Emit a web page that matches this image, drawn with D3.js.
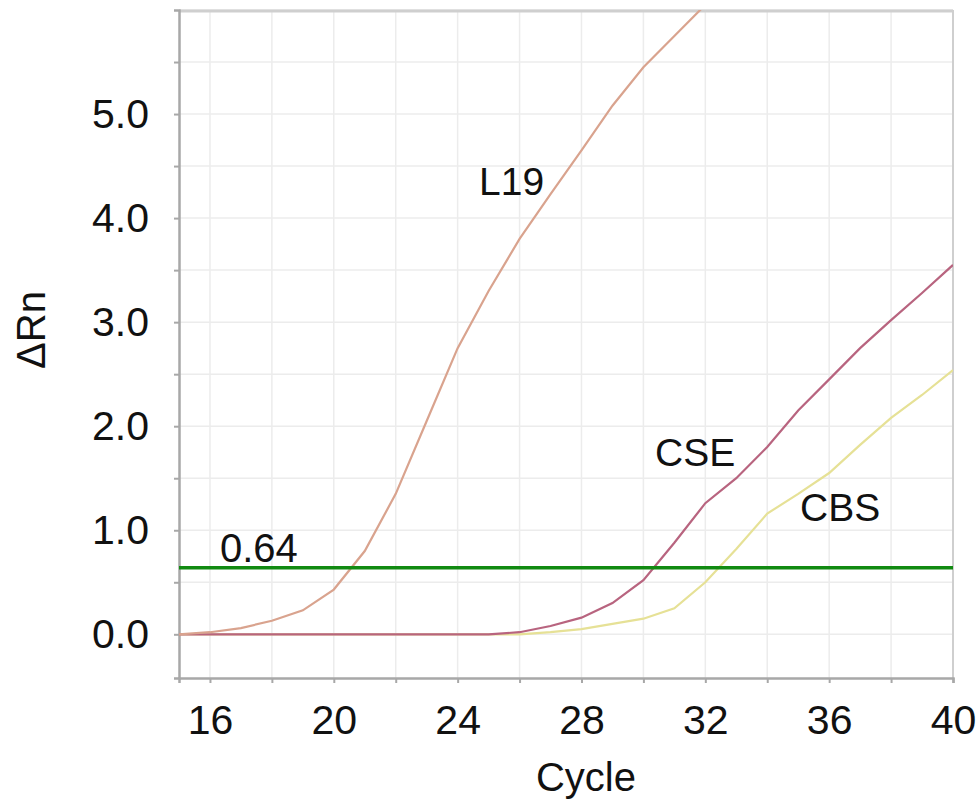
<!DOCTYPE html>
<html>
<head>
<meta charset="utf-8">
<script src="https://cdn.jsdelivr.net/npm/d3@7"></script>
<style>
  body { margin: 0; background: #fff; }
  svg { display: block; font-family: "Liberation Sans", Arial, sans-serif; }
</style>
</head>
<body>
<svg id="chart" width="980" height="808"></svg>
<script>
// cycles
var cycles = [15, 16, 17, 18, 19, 20, 21, 22, 23, 24, 25, 26, 27, 28, 29, 30, 31, 32, 33, 34, 35, 36, 37, 38, 39, 40];

var l19 = [0.0, 0.02, 0.06, 0.13, 0.23, 0.43, 0.8, 1.35, 2.05, 2.75, 3.3, 3.8, 4.23, 4.65, 5.08, 5.45, 5.75, 6.05, 6.3, 6.5, 6.7, 6.85, 7.0, 7.1, 7.2, 7.3];
var cse = [0.0, 0.0, 0.0, 0.0, 0.0, 0.0, 0.0, 0.0, 0.0, 0.0, 0.0, 0.02, 0.08, 0.16, 0.3, 0.52, 0.88, 1.26, 1.5, 1.8, 2.15, 2.45, 2.75, 3.02, 3.28, 3.55];
var cbs = [0.0, 0.0, 0.0, 0.0, 0.0, 0.0, 0.0, 0.0, 0.0, 0.0, 0.0, 0.0, 0.02, 0.05, 0.1, 0.15, 0.25, 0.5, 0.82, 1.16, 1.35, 1.55, 1.82, 2.08, 2.3, 2.54];

var seriesNames = ["L19", "CSE", "CBS"];
var seriesColors = ["#d9a38e", "#b8647f", "#e6e196"];

var threshold = 0.64;
var xTicks = [16, 18, 20, 22, 24, 26, 28, 30, 32, 34, 36, 38, 40];
var xLabels = [16, 20, 24, 28, 32, 36, 40];
var yTicks = [0, 0.5, 1, 1.5, 2, 2.5, 3, 3.5, 4, 4.5, 5, 5.5];
var yLabels = [0, 1, 2, 3, 4, 5];

var svg = d3.select("#chart");
var margin = {top: 10, right: 27, bottom: 130, left: 179};
var width = 980 - margin.left - margin.right;
var height = 808 - margin.top - margin.bottom;

var x = d3.scaleLinear().domain([15, 40]).range([0, width]);
var y = d3.scaleLinear().domain([-0.42, 6.0]).range([height, 0]);

var g = svg.append("g").attr("transform", "translate(" + margin.left + "," + margin.top + ")");

// grid
g.selectAll(".vgrid").data(xTicks).enter().append("line")
    .attr("x1", d => x(d)).attr("x2", d => x(d))
    .attr("y1", 0).attr("y2", height)
    .attr("stroke", "#ececec").attr("stroke-width", 1.5);
g.selectAll(".hgrid").data(yTicks.concat([6])).enter().append("line")
    .attr("x1", 0).attr("x2", width)
    .attr("y1", d => y(d)).attr("y2", d => y(d))
    .attr("stroke", "#ececec").attr("stroke-width", 1.5);

// frame top and right
g.append("line").attr("x1", 0).attr("x2", width).attr("y1", 1).attr("y2", 1)
    .attr("stroke", "#cfcfcf").attr("stroke-width", 3);
g.append("line").attr("x1", width).attr("x2", width).attr("y1", 0).attr("y2", height)
    .attr("stroke", "#cfcfcf").attr("stroke-width", 2);

// axes
var xAxis = d3.axisBottom(x).tickValues(xTicks).tickSize(5).tickPadding(22)
    .tickFormat(d => xLabels.indexOf(d) >= 0 ? d : "");
var yAxis = d3.axisLeft(y).tickValues(yTicks).tickSize(5).tickPadding(25)
    .tickFormat(d => yLabels.indexOf(d) >= 0 ? d3.format(".1f")(d) : "");

var gx = g.append("g").attr("transform", "translate(0," + height + ")").call(xAxis);
var gy = g.append("g").call(yAxis);

[gx, gy].forEach(function(a) {
  a.select(".domain").attr("stroke", "#a8a8a8").attr("stroke-width", 2.5);
  a.selectAll(".tick line").attr("stroke", "#a8a8a8").attr("stroke-width", 2);
  a.selectAll(".tick text").attr("fill", "#111").style("font-size", "41px");
});

// curves
var clip = svg.append("defs").append("clipPath").attr("id", "plot-clip")
  .append("rect").attr("width", width).attr("height", height);

var line = d3.line().x((d, i) => x(cycles[i])).y(d => y(d));
var plot = g.append("g").attr("clip-path", "url(#plot-clip)");

[cbs, cse, l19].forEach(function(s, k) {
  var idx = 2 - k;
  plot.append("path").datum(s)
      .attr("d", line)
      .attr("fill", "none")
      .attr("stroke", seriesColors[idx])
      .attr("stroke-width", 2.2);
});

// threshold line
g.append("line").attr("x1", 0).attr("x2", width)
    .attr("y1", y(threshold)).attr("y2", y(threshold))
    .attr("stroke", "#118a11").attr("stroke-width", 3.5);

// text labels
svg.append("text").attr("x", 220).attr("y", 562).text(threshold)
    .style("font-size", "40px").attr("fill", "#111");
svg.append("text").attr("x", 479).attr("y", 195).text(seriesNames[0])
    .style("font-size", "39px").attr("fill", "#111");
svg.append("text").attr("x", 655).attr("y", 466).text(seriesNames[1])
    .style("font-size", "39px").attr("fill", "#111");
svg.append("text").attr("x", 800).attr("y", 521).text(seriesNames[2])
    .style("font-size", "39px").attr("fill", "#111");

// axis titles
svg.append("text").attr("x", 586).attr("y", 791).attr("text-anchor", "middle")
    .text("Cycle").style("font-size", "40px").attr("fill", "#111");
svg.append("text").attr("transform", "translate(45,330) rotate(-90)")
    .attr("text-anchor", "middle").text("ΔRn")
    .style("font-size", "40px").attr("fill", "#111");
</script>
</body>
</html>
